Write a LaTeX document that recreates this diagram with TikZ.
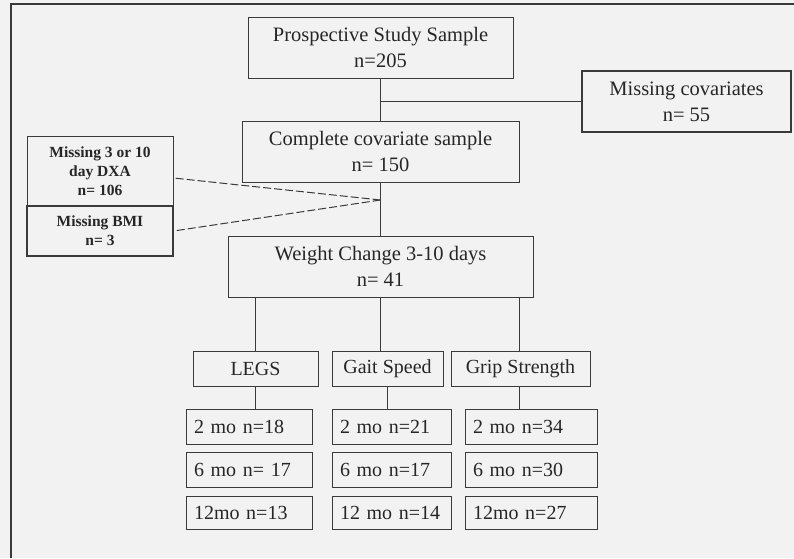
\documentclass[tikz,border=0pt]{standalone}
\usepackage{fontspec}
\setmainfont{Liberation Serif}
\usetikzlibrary{positioning,calc}
\definecolor{pagegray}{HTML}{F2F2F2}
\definecolor{inkgray}{HTML}{3A3A3A}
\definecolor{textgray}{HTML}{262626}

\begin{document}
\begin{tikzpicture}[x=1pt,y=-1pt,
  every node/.style={text=textgray},
  bigbox/.style={draw=inkgray, line width=1pt, fill=pagegray, align=center, inner sep=0pt,
    minimum height=61pt, font=\fontsize{20.5}{26}\selectfont},
  sidebox/.style={draw=inkgray, line width=1pt, fill=pagegray, align=center, inner sep=0pt,
    minimum width=146pt, font=\bfseries\fontsize{15.5}{19}\selectfont},
  outbox/.style={draw=inkgray, line width=1pt, fill=pagegray, inner sep=0pt,
    minimum height=35pt, font=\fontsize{20}{23}\selectfont},
  rowbox/.style={draw=inkgray, line width=1pt, fill=pagegray, inner xsep=8pt, inner ysep=0pt,
    minimum height=35pt, align=left, font=\fontsize{20}{23}\selectfont},
  link/.style={draw=inkgray, line width=1pt},
  droplink/.style={draw=inkgray, line width=1pt, dash pattern=on 8pt off 3pt}]
\useasboundingbox (0,0) rectangle (794,558);
\fill[pagegray] (0,0) rectangle (794,558);
\draw[inkgray, line width=1.2pt] (11,558) -- (11,4) -- (794,4);

\node[bigbox, minimum width=265pt] (pss) at (380.5,47.5) {Prospective Study Sample\\ n=205};
\node[bigbox, minimum width=209pt, line width=1.2pt] (mcov) at (686.5,101.5) {Missing covariates\\ n= 55};
\node[bigbox, minimum width=277pt] (ccs) at (380.5,151.5) {Complete covariate sample\\ n= 150};
\node[sidebox, minimum height=70pt] (dxa) at (100,171) {Missing 3 or 10\\ day DXA\\ n= 106};
\node[sidebox, minimum height=50pt, line width=1.2pt] (bmi) at (100,231) {Missing BMI\\ n= 3};
\node[bigbox, minimum width=305pt] (wc) at (380.5,266.5) {Weight Change 3-10 days\\ n= 41};

\node[outbox, minimum width=125pt] (legs) at (255.5,368.5) {LEGS};
\node[outbox, minimum width=111pt] (gait) at (387.5,368.5) {Gait Speed};
\node[outbox, minimum width=139pt] (grip) at (520.5,368.5) {Grip Strength};

\node[rowbox, text width=110pt] (l2) at (249,426.5) {2 mo n=18};
\node[rowbox, text width=110pt] (l6) at (249,469.5) {6 mo n= 17};
\node[rowbox, text width=110pt, minimum height=33pt] (l12) at (249,512.5) {12mo n=13};
\node[rowbox, text width=103pt] (g2) at (391.5,426.5) {2 mo n=21};
\node[rowbox, text width=103pt] (g6) at (391.5,469.5) {6 mo n=17};
\node[rowbox, text width=103pt, minimum height=33pt] (g12) at (391.5,512.5) {12 mo n=14};
\node[rowbox, text width=116pt] (r2) at (531,426.5) {2 mo n=34};
\node[rowbox, text width=116pt] (r6) at (531,469.5) {6 mo n=30};
\node[rowbox, text width=116pt, minimum height=33pt] (r12) at (531,512.5) {12mo n=27};

\coordinate (split) at (pss.south |- mcov.west);
\coordinate (drop) at ($(ccs.south)!0.33!(wc.north)$);

\draw[link] (pss.south) -- (ccs.north);
\draw[link] (split) -- (mcov.west);
\draw[link] (ccs.south) -- (wc.north);
\draw[droplink] (drop) -- ([yshift=-7pt]dxa.east);
\draw[droplink] (drop) -- (bmi.east);

\draw[link] (legs.north |- wc.south) -- (legs.north);
\draw[link] (wc.south) -- (wc.south |- gait.north);
\draw[link] ([xshift=-1.5pt]grip.north |- wc.south) -- ([xshift=-1.5pt]grip.north);
\draw[link] (legs.south) -- (legs.south |- l2.north);
\draw[link] (gait.south) -- (gait.south |- g2.north);
\draw[link] ([xshift=-1.5pt]grip.south) -- ([xshift=-1.5pt]grip.south |- r2.north);
\end{tikzpicture}
\end{document}
